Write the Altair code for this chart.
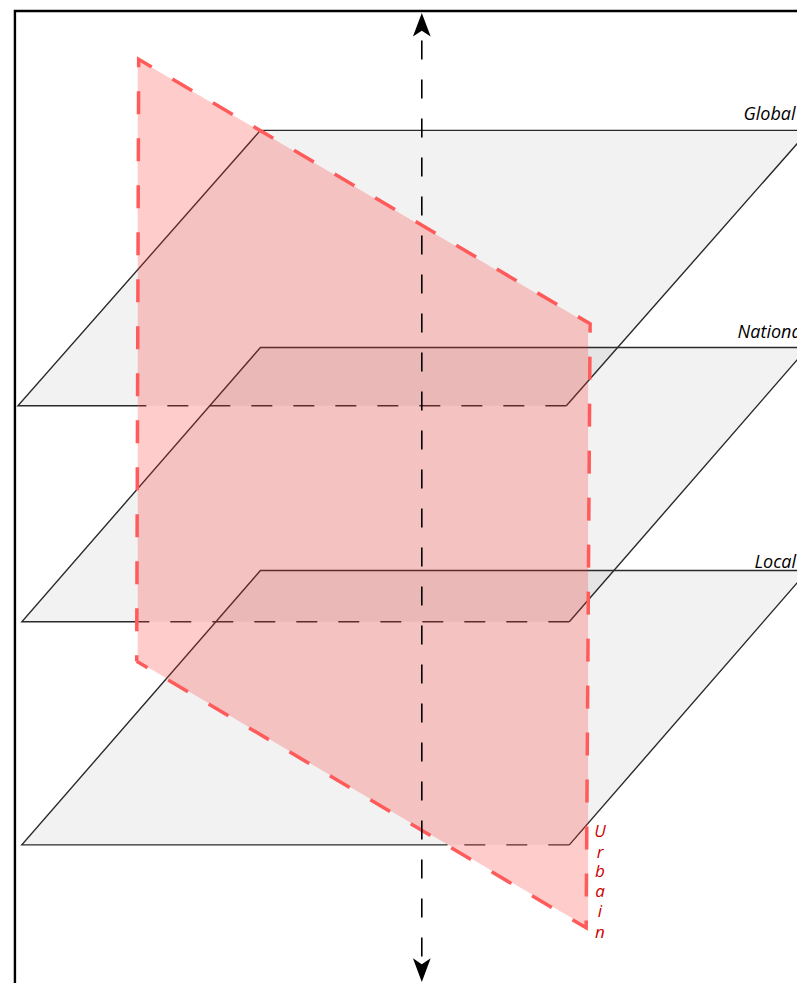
import altair as alt
import pandas as pd

# ---- gray levels (planes) ----
plane_names = ["Global", "National", "Local"]
plane_top_y = [132, 352, 578]
plane_bottom_y = [411, 630, 856]
plane_top_left_x = [263, 263, 263]
plane_top_right_x = [817, 816, 816]
plane_bottom_left_x = [18, 22, 22]
plane_bottom_right_x = [572, 575, 575]
plane_hidden_from_x = [140, 138, 452]   # where the bottom edge goes behind the red plane

label_x = [751, 745, 762]
label_y = [121, 342, 575]

# ---- red "Urbain" plane ----
red_outline_x = [138, 140, 596, 592, 138]
red_outline_y = [670, 60, 328, 940, 670]
red_fill_x = [139, 594]
red_fill_top = [60, 328]
red_fill_bottom = [670, 940]

urban_letters = ["U", "r", "b", "a", "i", "n"]
urban_x = [606, 606, 606, 606, 606, 606]
urban_y = [848, 869, 889, 909, 929, 950]

# ---- vertical axis arrow ----
axis_x = [426]
axis_top = [41]
axis_bottom = [971]
head_x = [426, 426]
head_y = [25, 983]
head_angle = [0, 180]

# ---- frame ----
frame_x = [15, 15, 812]
frame_y = [1002, 11, 11]

XS = alt.Scale(domain=[8, 805], nice=False, zero=False)
YS = alt.Scale(domain=[996, 8], nice=False, zero=False)


def X(f="x"):
    return alt.X(f"{f}:Q", scale=XS, axis=None)


def Y(f="y"):
    return alt.Y(f"{f}:Q", scale=YS, axis=None)


# plane fills (horizontal areas -> parallelograms)
rows = []
for i, n in enumerate(plane_names):
    rows.append(dict(p=n, y=plane_top_y[i], x=plane_top_left_x[i], x2=plane_top_right_x[i]))
    rows.append(dict(p=n, y=plane_bottom_y[i], x=plane_bottom_left_x[i], x2=plane_bottom_right_x[i]))
planes_df = pd.DataFrame(rows)
plane_fill = alt.Chart(planes_df).mark_area(
    orient="horizontal", color="black", opacity=0.05, clip=True
).encode(x=X(), x2="x2:Q", y=Y(), detail="p:N")

# plane solid edges
rows = []
for i, n in enumerate(plane_names):
    pts = [
        (plane_hidden_from_x[i], plane_bottom_y[i]),
        (plane_bottom_left_x[i], plane_bottom_y[i]),
        (plane_top_left_x[i], plane_top_y[i]),
        (plane_top_right_x[i], plane_top_y[i]),
        (plane_bottom_right_x[i], plane_bottom_y[i]),
    ]
    for k, (px, py) in enumerate(pts):
        rows.append(dict(p=n, o=k, x=px, y=py))
solid_df = pd.DataFrame(rows)
plane_solid = alt.Chart(solid_df).mark_line(
    color="#2a2a2a", strokeWidth=1.4, clip=True
).encode(x=X(), y=Y(), detail="p:N", order="o:Q")

# plane dashed (hidden) bottom edges
rows = []
for i, n in enumerate(plane_names):
    rows.append(dict(p=n, o=0, x=plane_bottom_right_x[i], y=plane_bottom_y[i]))
    rows.append(dict(p=n, o=1, x=plane_hidden_from_x[i], y=plane_bottom_y[i]))
dash_df = pd.DataFrame(rows)
plane_dash = alt.Chart(dash_df).mark_line(
    color="#2a2a2a", strokeWidth=1.4, strokeDash=[21, 21], clip=True
).encode(x=X(), y=Y(), detail="p:N", order="o:Q")

# red plane
red_df = pd.DataFrame(dict(x=red_fill_x, y=red_fill_top, y2=red_fill_bottom))
red_fill = alt.Chart(red_df).mark_area(
    orient="vertical", color="#ff3333", opacity=0.25, clip=True
).encode(x=X(), y=Y(), y2="y2:Q")

red_line_df = pd.DataFrame(dict(x=red_outline_x, y=red_outline_y, o=list(range(len(red_outline_x)))))
red_line = alt.Chart(red_line_df).mark_line(
    color="#ff5b5b", strokeWidth=3.5, strokeDash=[23, 24], strokeDashOffset=17, clip=True
).encode(x=X(), y=Y(), order="o:Q")

# axis arrow
axis_df = pd.DataFrame(dict(x=axis_x, y=axis_top, y2=axis_bottom))
axis_line = alt.Chart(axis_df).mark_rule(
    color="black", strokeWidth=1.6, strokeDash=[19, 20], clip=True
).encode(x=X(), y=Y(), y2="y2:Q")

head_df = pd.DataFrame(dict(x=head_x, y=head_y, a=head_angle))
heads = alt.Chart(head_df).mark_point(
    shape="M0,-1L0.75,1L0,0.5L-0.75,1Z", filled=True, color="black",
    opacity=1, size=560, strokeWidth=0, clip=True
).encode(x=X(), y=Y(), angle=alt.Angle("a:Q", scale=None))

# labels
lab_df = pd.DataFrame(dict(x=label_x, y=label_y, t=plane_names))
labels = alt.Chart(lab_df).mark_text(
    align="left", baseline="alphabetic", font="Open Sans", fontStyle="italic",
    fontSize=18, color="black", clip=True
).encode(x=X(), y=Y(), text="t:N")

urb_df = pd.DataFrame(dict(x=urban_x, y=urban_y, t=urban_letters))
urban = alt.Chart(urb_df).mark_text(
    align="center", baseline="alphabetic", font="Open Sans", fontStyle="italic",
    fontSize=17, color="#cc0000", clip=True
).encode(x=X(), y=Y(), text="t:N")

# frame
frame_df = pd.DataFrame(dict(x=frame_x, y=frame_y, o=[0, 1, 2]))
frame = alt.Chart(frame_df).mark_line(
    color="black", strokeWidth=2.4, clip=True
).encode(x=X(), y=Y(), order="o:Q")

chart = alt.layer(
    plane_fill, plane_solid, plane_dash, red_fill, red_line,
    axis_line, heads, labels, urban, frame
).properties(
    width=789, height=975,
    autosize=alt.AutoSizeParams(type="none"),
    padding=0, background="white"
).configure_view(stroke=None)

chart.save("out.html", embed_options={"renderer": "svg", "actions": False})
